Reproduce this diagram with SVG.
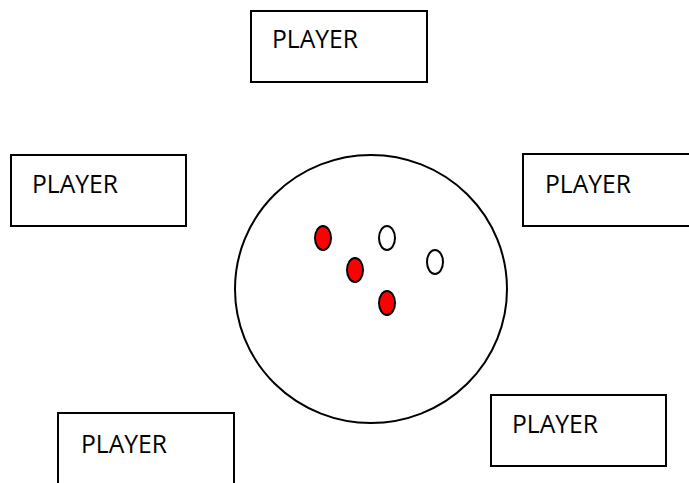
<svg xmlns="http://www.w3.org/2000/svg" width="689" height="483" viewBox="0 0 689 483">
  <style>
    .box { fill: #ffffff; stroke: #000000; stroke-width: 2; }
    .label { font-family: "Open Sans", "Liberation Sans", sans-serif; font-size: 25.5px; fill: #000000; }
    .table { fill: #ffffff; stroke: #000000; stroke-width: 2; }
    .ball { stroke: #000000; stroke-width: 2; }
    .red { fill: #ff0000; }
    .white { fill: #ffffff; }
  </style>
  <rect width="689" height="483" fill="#ffffff"/>

  <!-- players around the table -->
  <g id="player-top">
    <rect class="box" x="251" y="11" width="176" height="71"/>
    <text class="label" x="272" y="48" textLength="86" lengthAdjust="spacingAndGlyphs">PLAYER</text>
  </g>
  <g id="player-left">
    <rect class="box" x="11" y="155" width="175" height="71"/>
    <text class="label" x="32" y="193" textLength="86" lengthAdjust="spacingAndGlyphs">PLAYER</text>
  </g>
  <g id="player-right">
    <rect class="box" x="523" y="154" width="180" height="72"/>
    <text class="label" x="545" y="193" textLength="86" lengthAdjust="spacingAndGlyphs">PLAYER</text>
  </g>
  <g id="player-bottom-left">
    <rect class="box" x="58" y="413" width="176" height="90"/>
    <text class="label" x="81" y="453" textLength="86" lengthAdjust="spacingAndGlyphs">PLAYER</text>
  </g>
  <g id="player-bottom-right">
    <rect class="box" x="491" y="395" width="175" height="71"/>
    <text class="label" x="512" y="433" textLength="86" lengthAdjust="spacingAndGlyphs">PLAYER</text>
  </g>

  <!-- table with balls -->
  <g id="table">
    <ellipse class="table" cx="371" cy="289" rx="136" ry="134"/>
    <ellipse class="ball red" cx="323" cy="238" rx="8" ry="12"/>
    <ellipse class="ball white" cx="387" cy="238" rx="8" ry="12"/>
    <ellipse class="ball white" cx="435" cy="262" rx="8" ry="12"/>
    <ellipse class="ball red" cx="355" cy="270" rx="8" ry="12"/>
    <ellipse class="ball red" cx="387" cy="303" rx="8" ry="12"/>
  </g>

  <g id="connectors"/>
</svg>
